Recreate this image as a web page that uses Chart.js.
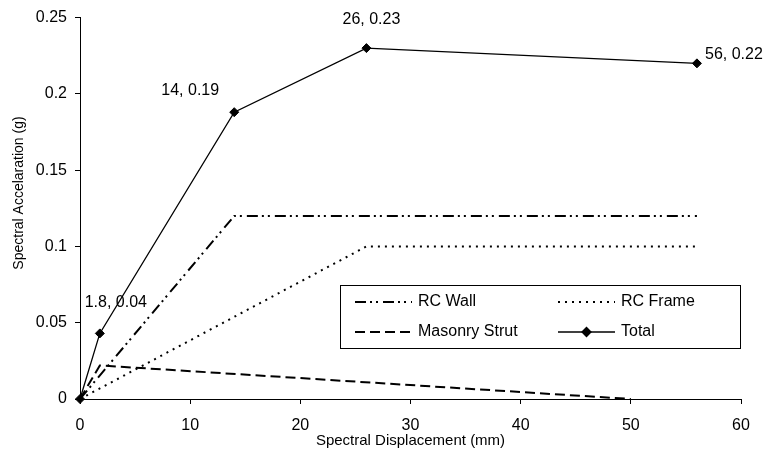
<!DOCTYPE html>
<html>
<head>
<meta charset="utf-8">
<script src="https://cdn.jsdelivr.net/npm/chart.js@4/dist/chart.umd.min.js"></script>
<style>
  html, body { margin: 0; padding: 0; background: #fff; }
  #wrap { width: 764px; height: 452px; }
</style>
</head>
<body>
<div id="wrap"><canvas id="capacityChart" width="764" height="452"></canvas></div>
<script>
// capacity curves, displacement in mm vs acceleration in g
const wallDisp = [0, 14, 56];
const wallAccel = [0, 0.12, 0.12];

const frameDisp = [0, 26, 56];
const frameAccel = [0, 0.1, 0.1];

const strutDisp = [0, 1.8, 50];
const strutAccel = [0, 0.022, 0];

const totalDisp = [0, 1.8, 14, 26, 56];
const totalAccel = [0, 0.043, 0.188, 0.23, 0.22];

const X_TICKS = [0, 10, 20, 30, 40, 50, 60];
const Y_TICKS = [0, 0.05, 0.1, 0.15, 0.2, 0.25];

const FONT = 'Liberation Sans, Arial, sans-serif';
const Y_TITLE = 'Spectral Accelaration (g)';

// where each point label sits relative to its marker
const labelOffsets = [null, [16, -31], [-44, -22], [5, -29], [37, -9]];

function toPoints(xs, ys) {
  return xs.map((x, i) => ({ x: x, y: ys[i] }));
}

const pointLabels = {
  id: 'pointLabels',
  afterDatasetsDraw(chart) {
    const meta = chart.getDatasetMeta(3);
    const ctx = chart.ctx;
    ctx.save();
    ctx.font = '16px ' + FONT;
    ctx.fillStyle = '#000';
    ctx.textAlign = 'center';
    ctx.textBaseline = 'middle';
    meta.data.forEach((pt, i) => {
      const off = labelOffsets[i];
      if (!off) return;
      const txt = totalDisp[i] + ', ' + totalAccel[i].toFixed(2);
      ctx.fillText(txt, pt.x + off[0], pt.y + off[1]);
    });
    ctx.restore();
  }
};

// vertical axis title, sits a little above the axis middle
const yTitle = {
  id: 'yTitle',
  afterDraw(chart) {
    const ctx = chart.ctx;
    ctx.save();
    ctx.translate(19, 193);
    ctx.rotate(-Math.PI / 2);
    ctx.font = '14px ' + FONT;
    ctx.fillStyle = '#000';
    ctx.textAlign = 'center';
    ctx.textBaseline = 'middle';
    ctx.fillText(Y_TITLE, 0, 0);
    ctx.restore();
  }
};

// boxed legend inside the plot, two columns
const boxLegend = {
  id: 'boxLegend',
  afterDraw(chart) {
    const ctx = chart.ctx;
    const sets = chart.data.datasets;
    const box = { x: 340.5, y: 285.5, w: 400, h: 63 };
    const cols = [355, 558];
    const rows = [302, 332];
    const sample = 57;
    ctx.save();
    ctx.fillStyle = '#fff';
    ctx.fillRect(box.x, box.y, box.w, box.h);
    ctx.strokeStyle = '#000';
    ctx.lineWidth = 1;
    ctx.setLineDash([]);
    ctx.strokeRect(box.x, box.y, box.w, box.h);
    ctx.font = '16px ' + FONT;
    ctx.textBaseline = 'middle';
    ctx.textAlign = 'left';
    sets.forEach((ds, i) => {
      const x = cols[i % 2];
      const y = rows[Math.floor(i / 2)];
      ctx.strokeStyle = ds.borderColor;
      ctx.lineWidth = ds.borderWidth;
      ctx.setLineDash(ds.borderDash || []);
      ctx.beginPath();
      ctx.moveTo(x, y);
      ctx.lineTo(x + sample, y);
      ctx.stroke();
      ctx.setLineDash([]);
      if (ds.pointRadius > 0) {
        Chart.helpers.drawPoint(ctx, {
          pointStyle: ds.pointStyle,
          radius: ds.pointRadius,
          borderWidth: 1
        }, x + sample / 2, y);
        ctx.fillStyle = '#000';
        ctx.fill();
      }
      ctx.fillStyle = '#000';
      ctx.fillText(ds.label, x + sample + 6, y);
    });
    ctx.restore();
  }
};

new Chart(document.getElementById('capacityChart'), {
  type: 'line',
  data: {
    datasets: [
      {
        label: 'RC Wall',
        data: toPoints(wallDisp, wallAccel),
        borderColor: '#000',
        borderWidth: 2,
        borderDash: [11, 4, 2, 4, 2, 5],
        pointRadius: 0
      },
      {
        label: 'RC Frame',
        data: toPoints(frameDisp, frameAccel),
        borderColor: '#000',
        borderWidth: 2,
        borderDash: [2, 5],
        pointRadius: 0
      },
      {
        label: 'Masonry Strut',
        data: toPoints(strutDisp, strutAccel),
        borderColor: '#000',
        borderWidth: 2,
        borderDash: [10, 5],
        pointRadius: 0
      },
      {
        label: 'Total',
        data: toPoints(totalDisp, totalAccel),
        borderColor: '#000',
        backgroundColor: '#000',
        borderWidth: 1.3,
        pointStyle: 'rectRot',
        pointRadius: 4.5,
        pointBorderWidth: 1,
        clip: false
      }
    ]
  },
  options: {
    responsive: false,
    animation: false,
    events: [],
    layout: {
      padding: { top: 15, right: 23, left: 0, bottom: 0 }
    },
    plugins: {
      legend: { display: false },
      tooltip: { enabled: false }
    },
    scales: {
      x: {
        type: 'linear',
        min: 0,
        max: 60,
        afterFit: (s) => { s.height = 53; },
        afterBuildTicks: (s) => { s.ticks = X_TICKS.map(v => ({ value: v })); },
        grid: { drawOnChartArea: false, color: '#000', tickLength: 5 },
        border: { color: '#000', width: 1 },
        ticks: { color: '#000', padding: 12, maxRotation: 0, font: { family: FONT, size: 16 } },
        title: {
          display: true,
          text: 'Spectral Displacement (mm)',
          color: '#000',
          font: { family: FONT, size: 15 },
          padding: { top: 0, bottom: 2 }
        }
      },
      y: {
        min: 0,
        max: 0.25,
        afterFit: (s) => { s.width = 80; },
        afterBuildTicks: (s) => { s.ticks = Y_TICKS.map(v => ({ value: v })); },
        grid: { drawOnChartArea: false, color: '#000', tickLength: 5 },
        border: { color: '#000', width: 1 },
        ticks: {
          color: '#000',
          padding: 8,
          font: { family: FONT, size: 16 },
          callback: (v) => String(+v.toFixed(2))
        },
        title: { display: false }
      }
    }
  },
  plugins: [pointLabels, yTitle, boxLegend]
});
</script>
</body>
</html>
